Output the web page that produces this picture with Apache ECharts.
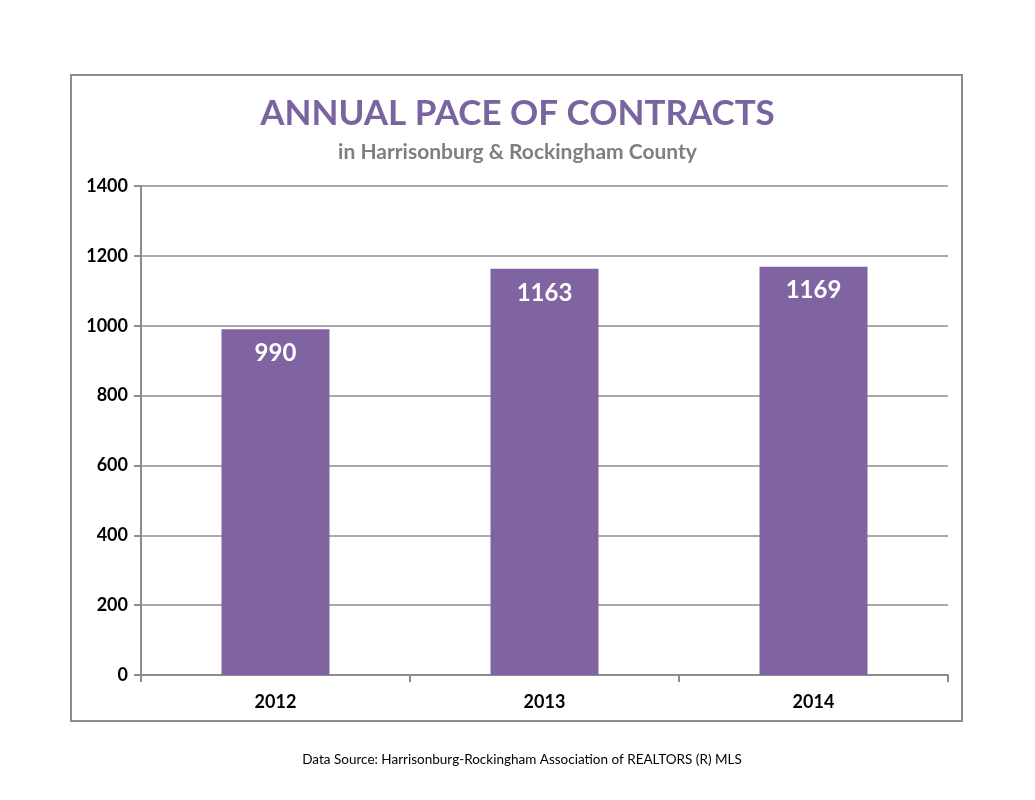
<!DOCTYPE html>
<html>
<head>
<meta charset="utf-8">
<script src="https://cdn.jsdelivr.net/npm/echarts@6/dist/echarts.min.js"></script>
<style>
  html, body { margin: 0; padding: 0; background: #fff; }
  #chart { width: 1035px; height: 800px; }
</style>
</head>
<body>
<div id="chart"></div>
<script>
const years = ['2012', '2013', '2014']
const contracts = [990, 1163, 1169]
const yTicks = [0, 200, 400, 600, 800, 1000, 1200, 1400]

const purple = '#8064a2'
const font = 'Lato'

const chart = echarts.init(document.getElementById('chart'))

chart.setOption({
  backgroundColor: '#fff',
  animation: false,
  title: {
    text: 'ANNUAL PACE OF CONTRACTS',
    subtext: 'in Harrisonburg & Rockingham County',
    left: 'center',
    top: 91,
    itemGap: 11,
    textStyle: { fontFamily: font, fontSize: 35, fontWeight: 'bold', color: '#7a64a0' },
    subtextStyle: { fontFamily: font, fontSize: 21, fontWeight: 'bold', color: '#7f7f7f' }
  },
  grid: { left: 141, right: 87, top: 186, bottom: 125 },
  xAxis: {
    type: 'category',
    data: years,
    axisLine: { lineStyle: { color: '#8c8c8c', width: 2 } },
    axisTick: { show: true, length: 7, lineStyle: { color: '#8c8c8c', width: 2 } },
    axisLabel: { color: '#000', fontFamily: font, fontSize: 18, fontWeight: 'bold', margin: 18 }
  },
  yAxis: {
    type: 'value',
    min: yTicks[0],
    max: yTicks[yTicks.length - 1],
    interval: yTicks[1] - yTicks[0],
    axisLine: { show: true, lineStyle: { color: '#8c8c8c', width: 2 } },
    axisTick: { show: true, length: 7, lineStyle: { color: '#8c8c8c', width: 2 } },
    axisLabel: {
      color: '#000', fontFamily: font, fontSize: 18, fontWeight: 'bold', margin: 13,
      formatter: (v) => String(v)
    },
    splitLine: { lineStyle: { color: '#8c8c8c', width: 1.5 } }
  },
  series: [{
    type: 'bar',
    data: contracts,
    barWidth: 108,
    itemStyle: { color: purple },
    label: {
      show: true,
      position: 'insideTop',
      distance: 12,
      color: '#fff',
      fontFamily: font,
      fontSize: 24,
      fontWeight: 'bold'
    }
  }],
  graphic: [
    {
      type: 'rect',
      shape: { x: 71, y: 75, width: 891, height: 646 },
      style: { fill: 'none', stroke: '#8c8c8c', lineWidth: 2 },
      z: -1
    },
    {
      type: 'text',
      x: 522,
      y: 760,
      style: {
        text: 'Data Source: Harrisonburg-Rockingham Association of REALTORS (R) MLS',
        fontFamily: font,
        fontSize: 13.5,
        fill: '#000',
        align: 'center',
        verticalAlign: 'middle'
      }
    }
  ]
})
</script>
</body>
</html>
